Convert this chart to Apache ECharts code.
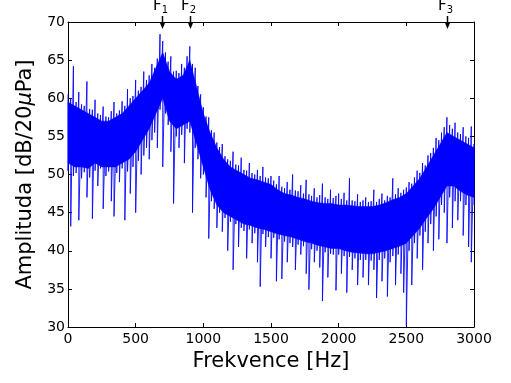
<!DOCTYPE html>
<html><head><meta charset="utf-8">
<script src="https://cdn.jsdelivr.net/npm/echarts@6/dist/echarts.min.js"></script>
<style>html,body{margin:0;padding:0;background:#fff}#c{width:511px;height:383px}</style>
</head><body><div id="c"></div>
<script>
const freqStep = 20;
const hiValues = [
60.5,60,64.2,59.5,60.8,59.2,59,62.2,58.6,58.5,
59.8,58,57.8,58.9,57.6,57.5,58.3,59.5,58,58.4,
59.6,59,61.2,60,60.3,62.4,61,61.5,63.5,62.4,
63,64.5,64,65.2,68.4,67.5,66,64.8,65.5,63.5,
63.6,63.3,64.5,64,65.5,66.8,64.5,64,61.6,60.5,
58.8,57.6,57.5,55.8,55.5,54.2,53.6,54,52.4,52,
51.8,53,51.3,51.2,52.2,50.6,50.5,51.5,50.2,50,
50.6,49.8,51,49.6,49.5,49.8,49.2,48.7,49.8,48.4,
48.2,49,48,50,47.9,47.8,48.6,47.5,49.3,47.4,
47.2,48.2,47,47.3,48.8,47,46.8,48,46.9,47.2,
47.5,46.8,47.6,46.6,49.5,46.6,46.5,47.4,46.4,46.6,
47,46.4,46.5,48,46.4,46.8,47.5,46.6,47.2,47,
49.5,47.4,48.2,47.6,48,48.3,49,48.8,49.6,50.5,
50.2,51.5,51.2,52.5,52.8,53.5,54.8,54.5,55.5,56.2,
57.5,56.5,56,56.8,55.5,55.3,56.2,55,54.8,56.3,
54
];
const loValues = [
50.5,43.2,49.8,50.2,44,49.5,50.3,47,49.6,44.2,
50.5,48.5,50.8,45.5,49.8,50.4,46.5,44.5,50.2,49,
50.8,44,50.4,47.5,51,45,51.8,50,52.5,53.5,
52,54.5,55.5,53.5,58.5,51,58,56.5,53,46.2,
55,53.5,55.2,51.5,56,55.5,45,53.5,52,49.5,
50,47,41.6,46.5,45.5,43,45,42.5,44.3,40,
43.8,37.5,43.5,40.5,43,42.6,39,42.8,41,42.3,
38.5,35.3,42.2,40.5,41.8,39,41.7,36,41.5,36.3,
41.2,38.5,41,40.5,37.5,40.8,39.5,40.6,37,34.9,
40.2,38.5,40,37.8,33.4,39.8,36.5,39.6,39.5,34.8,
39.5,37,39.3,34.5,39.2,37.5,39,35.5,38.8,36.5,
38.8,35.5,38.7,37.5,33.8,38.8,36,39,34,38.5,
39.3,35.5,39.5,37,34.5,30.2,40,35.5,41,39,
42,37.5,42.5,41,43.5,40,44.5,41.5,46,45,
41,47,43,46.5,44,46.5,42,46,40.5,38.5,
46
];
// dense (solid) core of the band, every 50 Hz
const coreStep = 50;
const coreTop = [
59.5,59,58.5,58,57.5,57,57,57.5,58,59,
60,61,62,64,66,63.5,62.5,63,65,61.5,
58,55.5,53.5,52,51,50.5,50,49.5,49.3,49,
48.7,48,47.5,47.3,47,46.8,46.5,46.3,46.2,46.2,
46,46,45.9,45.8,45.8,45.8,46,46.3,46.7,47,
47.5,48.5,49.5,51,52.5,54,55.5,55,54.5,54,
53.5
];
const coreBottom = [
51.5,51,51,50.8,51.5,51,51,51,51.5,52,
53,54.5,56,58,60,57,56,56.5,57,54,
51,48,46,45,44.5,44,43.5,43.3,43,42.8,
42.5,42.2,42,41.8,41.5,41.2,41,40.7,40.5,40.3,
40.3,40,39.8,39.7,39.6,39.6,39.8,40,40.3,40.6,
41,42,43,44.3,45.5,47,48.5,48.5,47.8,47.3,
47
];
const xTickValues = [0, 500, 1000, 1500, 2000, 2500, 3000];
const yTickValues = [30, 35, 40, 45, 50, 55, 60, 65, 70];
const annotFreq = [695, 902, 2800];
const annotSub = ['1', '2', '3'];

const seriesData = [];
for (let i = 0; i < hiValues.length; i++) {
  seriesData.push([i * freqStep, hiValues[i]]);
  seriesData.push([i * freqStep, loValues[i]]);
}

const FONT = 'DejaVu Sans';
const BLUE = '#0000ff';
const chart = echarts.init(document.getElementById('c'), null, {renderer: 'canvas'});
const xBase = {
  type: 'value', min: xTickValues[0], max: xTickValues[xTickValues.length - 1], interval: 500,
  splitLine: {show: false},
  axisLine: {show: true, onZero: false, lineStyle: {color: '#000', width: 1}},
  axisTick: {show: true, inside: true, length: 4, lineStyle: {color: '#000'}}
};
const yBase = {
  type: 'value', min: yTickValues[0], max: yTickValues[yTickValues.length - 1], interval: 5,
  splitLine: {show: false},
  axisLine: {show: true, onZero: false, lineStyle: {color: '#000', width: 1}},
  axisTick: {show: true, inside: true, length: 4, lineStyle: {color: '#000'}}
};
chart.setOption({
  animation: false,
  backgroundColor: '#fff',
  grid: {left: 68, right: 37, top: 22, bottom: 56, containLabel: false},
  xAxis: [
    Object.assign({}, xBase, {
      position: 'bottom',
      axisLabel: {show: true, color: '#000', fontFamily: FONT, fontSize: 14, margin: 5,
        formatter: v => String(v)},
      name: 'Frekvence [Hz]', nameLocation: 'middle', nameGap: 17,
      nameTextStyle: {color: '#000', fontFamily: FONT, fontSize: 21}
    }),
    Object.assign({}, xBase, {position: 'top', axisLabel: {show: false}})
  ],
  yAxis: [
    Object.assign({}, yBase, {
      position: 'left',
      axisLabel: {show: true, color: '#000', fontFamily: FONT, fontSize: 14, margin: 3,
        formatter: v => String(v)},
      name: 'Amplituda [dB/20{i|μ}Pa]', nameLocation: 'middle', nameGap: 29,
      nameTextStyle: {color: '#000', fontFamily: FONT, fontSize: 21,
        rich: {i: {fontFamily: FONT, fontSize: 21, fontStyle: 'italic', color: '#000'}}}
    }),
    Object.assign({}, yBase, {position: 'right', axisLabel: {show: false}})
  ],
  series: [
    {
      type: 'custom', xAxisIndex: 0, yAxisIndex: 0, silent: true, z: 1,
      data: [[0, coreBottom[0]]],
      renderItem: function (params, api) {
        const pts = [];
        for (let i = 0; i < coreTop.length; i++) pts.push(api.coord([i * coreStep, coreTop[i]]));
        for (let i = coreBottom.length - 1; i >= 0; i--) pts.push(api.coord([i * coreStep, coreBottom[i]]));
        return {type: 'polygon', shape: {points: pts}, style: {fill: BLUE, stroke: BLUE, lineWidth: 0.5}};
      }
    },
    {
      type: 'line', xAxisIndex: 0, yAxisIndex: 0,
      data: seriesData, showSymbol: false, symbol: 'none', sampling: false,
      lineStyle: {color: BLUE, width: 1, opacity: 0.85}, clip: true, z: 2
    }
  ]
});

// annotations F1, F2, F3 with arrows, positioned through the axis scales
const topY = chart.convertToPixel({yAxisIndex: 0}, yTickValues[yTickValues.length - 1]);
const graphics = [];
annotFreq.forEach((f, k) => {
  const x = Math.round(chart.convertToPixel({xAxisIndex: 0}, f)) + 0.5;
  graphics.push({
    type: 'text', x: x - 2, y: topY - 7,
    style: {text: '{F|F}{s|' + annotSub[k] + '}', align: 'center', verticalAlign: 'bottom',
      rich: {F: {fontFamily: FONT, fontSize: 15, fill: '#000', color: '#000'},
             s: {fontFamily: FONT, fontSize: 10, fill: '#000', color: '#000', padding: [8, 0, 0, 0]}}},
    z: 100
  });
  graphics.push({type: 'line', shape: {x1: x, y1: topY - 6, x2: x, y2: topY + 2},
    style: {stroke: '#000', lineWidth: 1.5}, z: 100});
  graphics.push({type: 'polygon', shape: {points: [[x - 2.5, topY + 1], [x + 2.5, topY + 1], [x, topY + 7]]},
    style: {fill: '#000'}, z: 100});
});
chart.setOption({graphic: graphics});
</script>
</body></html>
